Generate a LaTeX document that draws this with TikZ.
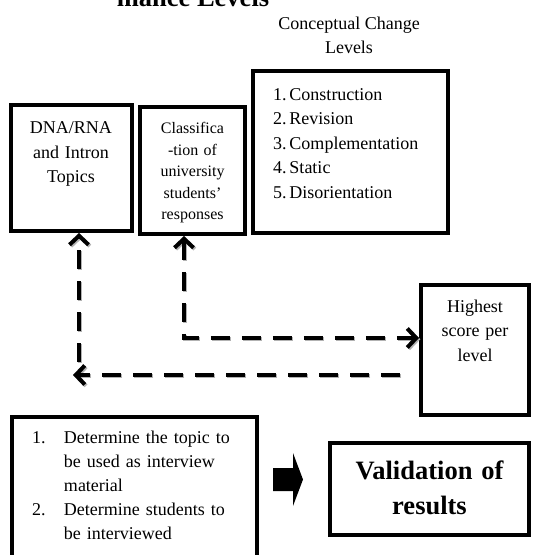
\documentclass[tikz,border=0pt]{standalone}
\usepackage{fontspec}
\setmainfont{Liberation Serif}
\usetikzlibrary{arrows.meta}

\tikzset{
  box/.style={draw, line width=4pt, inner sep=0pt, anchor=north west, align=center,
    font=\fontsize{18}{24.5}\selectfont},
  link/.style={line width=4pt, dash pattern=on 19pt off 12pt,
    >={Straight Barb[length=9pt,width=19pt]},
    preaction={draw=black!30, line width=4pt, dash pattern=on 19pt off 12pt,
      transform canvas={shift={(1.3pt,-1.3pt)}}}},
}

\begin{document}
\begin{tikzpicture}[x=1pt,y=-1pt]
\useasboundingbox (0,0) rectangle (534,555);
\clip (0,0) rectangle (534,555);

% --- HEADINGS ---
\node[anchor=base, inner sep=0pt, font=\fontsize{26.5}{32}\selectfont\bfseries] (title) at (193,6.5) {mance Levels};
\node[align=center, inner sep=0pt, font=\fontsize{18}{24}\selectfont] (cclabel) at (349,35) {Conceptual Change\\Levels};

% --- TOP ROW ---
\node[box, text width=121pt, text height=28.5pt, text depth=97.5pt] (topics) at (8.5,103)
  {DNA/RNA\\and Intron\\Topics};
\node[box, text width=105pt, text height=26.5pt, text depth=100.5pt,
  font=\fontsize{16}{21.5}\selectfont] (classes) at (138,105)
  {Classifica\\-tion of\\university\\students'\\responses};
\node[box, align=left, inner xsep=20pt, text width=155pt, text height=29pt, text depth=133pt] (levels) at (251,69)
  {\makebox[16.5pt][l]{1.}Construction\\
   \makebox[16.5pt][l]{2.}Revision\\
   \makebox[16.5pt][l]{3.}Complementation\\
   \makebox[16.5pt][l]{4.}Static\\
   \makebox[16.5pt][l]{5.}Disorientation};

% --- SCORE ---
\node[box, text width=108pt, text height=27pt, text depth=103pt] (score) at (419,283)
  {Highest\\score per\\level};

% --- BOTTOM ROW ---
\node[box, align=left, inner xsep=20pt, text width=205pt, text height=26.5pt, text depth=132.5pt,
  font=\fontsize{18}{24}\selectfont] (steps) at (10,415)
  {\makebox[32pt][l]{1.}Determine the topic to\\
   \hspace*{32pt}be used as interview\\
   \hspace*{32pt}material\\
   \makebox[32pt][l]{2.}Determine students to\\
   \hspace*{32pt}be interviewed};
\node[box, text width=199pt, text height=36pt, text depth=56pt,
  font=\fontsize{26.5}{35}\selectfont\bfseries] (result) at (328,441)
  {Validation of\\results};

\fill (273,468) -- (293,468) -- (293,453) -- (303,479.5) -- (293,506) -- (293,491) -- (273,491) -- cycle;

% --- DASHED LINKS ---
\coordinate (bend) at (184,338);
\draw[link, <->] (bend |- classes.south) -- (bend) -- (bend -| score.west);

\coordinate (ret) at (400,375);
\coordinate (retend) at (73,375);
\draw[link, ->] (ret) -- (retend);

\coordinate (rise) at (79,362);
\draw[link, ->] (rise) -- (rise |- topics.south);

\end{tikzpicture}
\end{document}
